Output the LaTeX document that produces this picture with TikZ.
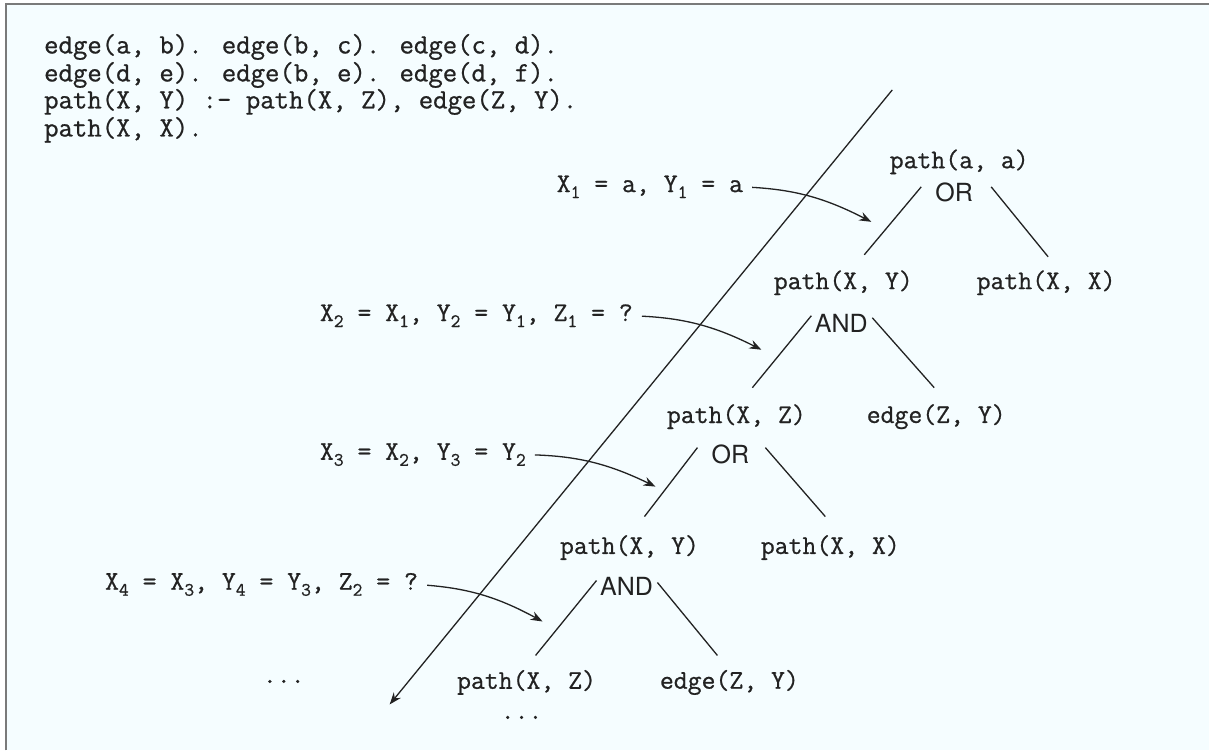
\documentclass[tikz,border=0pt]{standalone}
\usepackage{fontspec}
\newfontfamily\hel{TeX Gyre Heros}
\newfontfamily\tth[FakeBold=0.8]{Latin Modern Mono}
\usetikzlibrary{arrows.meta}
\definecolor{bg}{HTML}{F5FDFF}
\definecolor{ink}{HTML}{222222}
\definecolor{framec}{HTML}{7A7A7A}
\newcommand\sbx[1]{\raisebox{-6pt}{\fontsize{19}{19}\selectfont #1}}
\begin{document}
\begin{tikzpicture}[x=1pt,y=-1pt,
  code/.style={anchor=west,inner sep=0pt,font=\fontsize{28}{28}\tth,text=ink},
  term/.style={inner sep=0pt,font=\fontsize{27}{28}\tth,text=ink},
  lbl/.style={anchor=west,inner sep=0pt,font=\fontsize{27}{28}\tth,text=ink},
  conn/.style={font=\fontsize{25}{26}\hel,inner sep=0pt,text=ink},
  tree/.style={draw=ink,line width=1.3pt},
  arr/.style={draw=ink,line width=1.3pt,-{Stealth[length=12pt,width=9pt]}},
]
\fill[white] (0,0) rectangle (1210,751);
\fill[bg] (5,3) rectangle (1210,751);
\draw[framec,line width=2pt] (6,751) -- (6,4) -- (1210,4);
\useasboundingbox (0,0) rectangle (1210,751);

% program
\node[code] (c1) at (44,47) {edge(a, b). edge(b, c). edge(c, d).};
\node[code] (c2) at (44,75) {edge(d, e). edge(b, e). edge(d, f).};
\node[code] (c3) at (44,102) {path(X, Y) :- path(X, Z), edge(Z, Y).};
\node[code] (c4) at (44,130) {path(X, X).};

% tree terms
\node[term] (n1) at (960,162) {path(a, a)};
\node[conn] (or1) at (955,193) {OR};
\node[term] (n2) at (844,283) {path(X, Y)};
\node[term] (n3) at (1047,283) {path(X, X)};
\node[conn] (and1) at (842,324) {AND};
\node[term] (n4) at (737,417) {path(X, Z)};
\node[term] (n5) at (937,417) {edge(Z, Y)};
\node[conn] (or2) at (731,455) {OR};
\node[term] (n6) at (630,548) {path(X, Y)};
\node[term] (n7) at (831,548) {path(X, X)};
\node[conn] (and2) at (627,587) {AND};
\node[term] (n8) at (527,683) {path(X, Z)};
\node[term] (n9) at (730,683) {edge(Z, Y)};
\node[term] (d1) at (284,682) {...};
\node[term] (d2) at (522,718) {...};

% tree edges
\coordinate (a1) at (922,187); \coordinate (b1) at (865,255);
\coordinate (a2) at (992,187); \coordinate (b2) at (1049,257);
\coordinate (a3) at (812,316); \coordinate (b3) at (753,388);
\coordinate (a4) at (873,318); \coordinate (b4) at (935,388);
\coordinate (a5) at (698,448); \coordinate (b5) at (645,517);
\coordinate (a6) at (766,448); \coordinate (b6) at (826,517);
\coordinate (a7) at (597,581); \coordinate (b7) at (536,656);
\coordinate (a8) at (658,583); \coordinate (b8) at (718,656);
\foreach \i in {1,...,8} {\draw[tree] (a\i) -- (b\i);}

% binding labels
\node[lbl] (L1) at (557,187) {X\sbx{1} = a, Y\sbx{1} = a};
\node[lbl] (L2) at (320,316) {X\sbx{2} = X\sbx{1}, Y\sbx{2} = Y\sbx{1}, Z\sbx{1} = ?};
\node[lbl] (L3) at (320,455) {X\sbx{3} = X\sbx{2}, Y\sbx{3} = Y\sbx{2}};
\node[lbl] (L4) at (105,585) {X\sbx{4} = X\sbx{3}, Y\sbx{4} = Y\sbx{3}, Z\sbx{2} = ?};

\coordinate (t1) at (872,222);
\coordinate (t2) at (762,350);
\coordinate (t3) at (656,487);
\coordinate (t4) at (543,622);
\draw[arr,shorten <=9pt] (L1.east) to[bend left=12] (t1);
\draw[arr,shorten <=9pt] (L2.east) to[bend left=12] (t2);
\draw[arr,shorten <=9pt] (L3.east) to[bend left=12] (t3);
\draw[arr,shorten <=9pt] (L4.east) to[bend left=12] (t4);

% time line
\coordinate (top) at (893,90);
\coordinate (bot) at (390,705);
\draw[arr] (top) -- (bot);
\end{tikzpicture}
\end{document}
